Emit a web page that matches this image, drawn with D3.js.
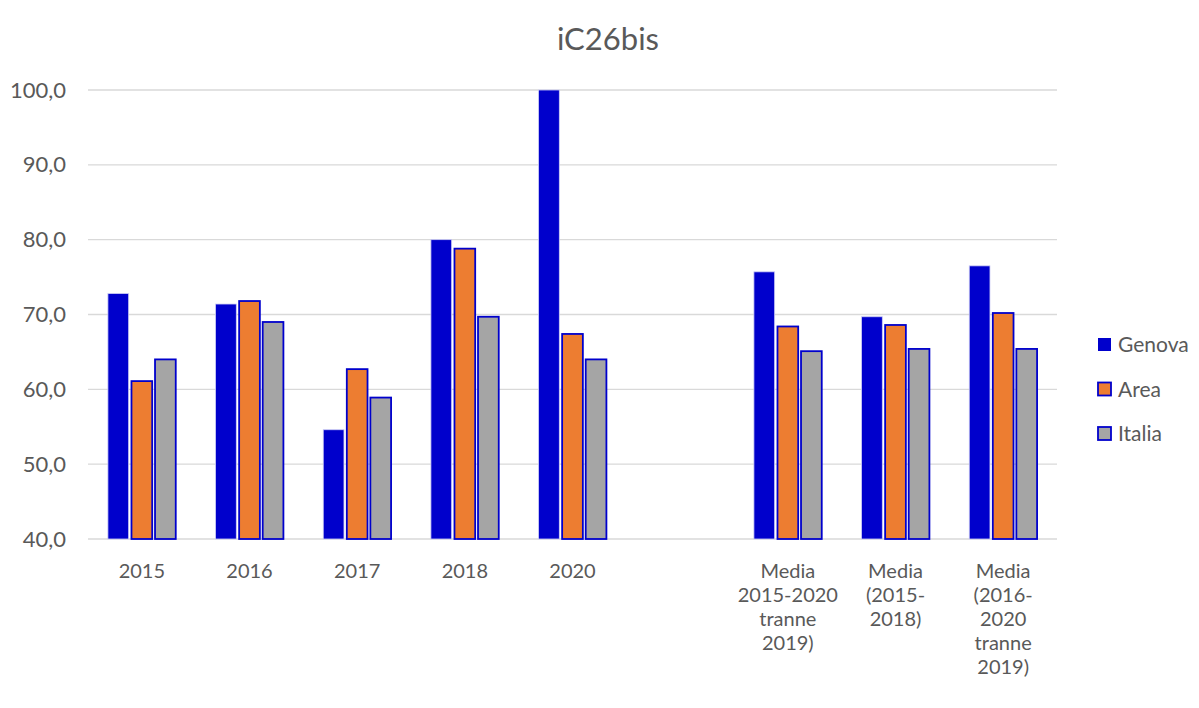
<!DOCTYPE html>
<html>
<head>
<meta charset="utf-8">
<script src="https://cdn.jsdelivr.net/npm/d3@7"></script>
<style>
body { margin: 0; background: #fff; }
text { font-family: Lato, "Open Sans", sans-serif; fill: #595959; }
</style>
</head>
<body>
<div id="chart"></div>
<script>
// data
var categories = ["2015", "2016", "2017", "2018", "2020", "", "m1", "m2", "m3"];
var tickLabels = [["2015"], ["2016"], ["2017"], ["2018"], ["2020"], [""],
	["Media", "2015-2020", "tranne", "2019)"],
	["Media", "(2015-", "2018)"],
	["Media", "(2016-", "2020", "tranne", "2019)"]];
var seriesNames = ["Genova", "Area", "Italia"];
var genova = [72.8, 71.4, 54.6, 80.0, 100.0, null, 75.7, 69.7, 76.5];
var area = [61.1, 71.8, 62.7, 78.8, 67.4, null, 68.4, 68.6, 70.2];
var italia = [64.0, 69.0, 58.9, 69.7, 64.0, null, 65.1, 65.4, 65.4];
var colors = ["#0000cc", "#ed7d31", "#a5a5a5"];
var yTicks = [40, 50, 60, 70, 80, 90, 100];

var w = 1199, h = 708;
var plotLeft = 88, plotRight = 1057, plotTop = 90, plotBottom = 539;

var svg = d3.select("#chart").append("svg").attr("width", w).attr("height", h);

var xScale = d3.scaleBand().domain(categories).range([plotLeft, plotRight]).paddingInner(0).paddingOuter(0);
var yScale = d3.scaleLinear().domain([40, 100]).range([plotBottom, plotTop]);
var sub = d3.scaleBand().domain(seriesNames)
	.range([xScale.bandwidth() * 0.185, xScale.bandwidth() * 0.815]).paddingInner(0.12);

// gridlines
svg.append("g").selectAll("line").data(yTicks).enter()
	.append("line")
	.attr("x1", plotLeft).attr("x2", plotRight)
	.attr("y1", function (d) { return yScale(d); })
	.attr("y2", function (d) { return yScale(d); })
	.attr("stroke", "#d9d9d9").attr("stroke-width", 1.3);

// y axis labels
var yAxis = d3.axisLeft(yScale).tickValues(yTicks).tickSize(0).tickPadding(22)
	.tickFormat(function (d) { return d3.format(".1f")(d).replace(".", ","); });
var yg = svg.append("g").attr("transform", "translate(" + plotLeft + ",0)").call(yAxis);
yg.select(".domain").remove();
yg.selectAll("text").style("font-size", "22px").attr("fill", "#595959").attr("font-family", "Lato");

// bars
var allSeries = [genova, area, italia];
allSeries.forEach(function (vals, s) {
	svg.append("g").selectAll("rect")
		.data(vals.map(function (v, i) { return { cat: categories[i], v: v }; }).filter(function (d) { return d.v != null; }))
		.enter().append("rect")
		.attr("x", function (d) { return xScale(d.cat) + sub(seriesNames[s]); })
		.attr("width", sub.bandwidth())
		.attr("y", function (d) { return yScale(d.v); })
		.attr("height", function (d) { return plotBottom - yScale(d.v); })
		.attr("fill", colors[s])
		.attr("stroke", s == 0 ? "#ccccf5" : "#0000cc")
		.attr("stroke-width", s == 0 ? 0.8 : 1.8);
});

// x axis labels (multi-line)
var xl = svg.append("g").selectAll("text").data(categories).enter()
	.append("text")
	.attr("text-anchor", "middle")
	.style("font-size", "20px")
	.attr("x", function (d) { return xScale(d) + xScale.bandwidth() / 2; })
	.attr("y", 578);
xl.each(function (d, i) {
	var t = d3.select(this);
	tickLabels[i].forEach(function (line, j) {
		t.append("tspan").attr("x", xScale(d) + xScale.bandwidth() / 2)
			.attr("dy", j == 0 ? 0 : 24).text(line);
	});
});

// title
svg.append("text").attr("x", 608).attr("y", 50).attr("text-anchor", "middle")
	.style("font-size", "31px").text("iC26bis");

// legend
var lg = svg.append("g").selectAll("g").data(seriesNames).enter().append("g")
	.attr("transform", function (d, i) { return "translate(1098," + (338 + i * 44.5) + ")"; });
lg.append("rect").attr("width", 13).attr("height", 13)
	.attr("fill", function (d, i) { return colors[i]; })
	.attr("stroke", "#0000cc").attr("stroke-width", function (d, i) { return i == 0 ? 0 : 1.8; });
lg.append("text").attr("x", 20).attr("y", 14).style("font-size", "21px").text(function (d) { return d; });
</script>
</body>
</html>
